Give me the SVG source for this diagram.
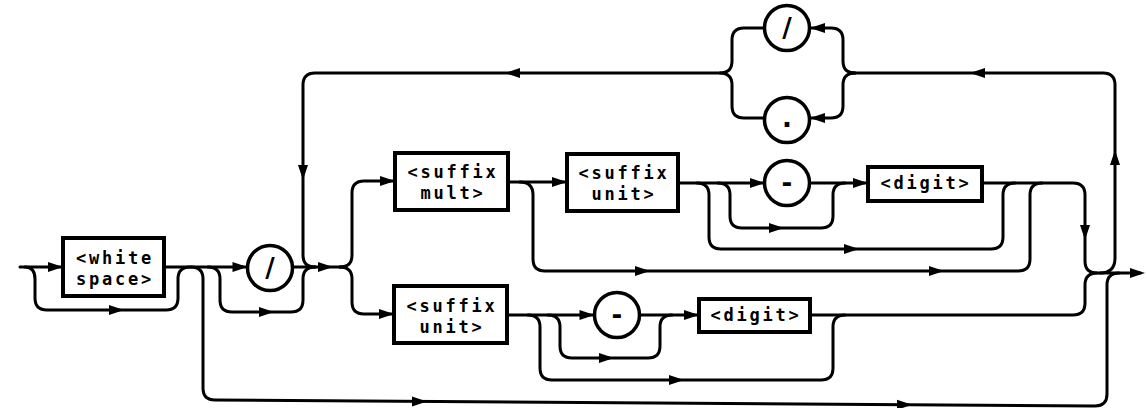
<svg xmlns="http://www.w3.org/2000/svg" xmlns:xlink="http://www.w3.org/1999/xlink" width="1147" height="408" viewBox="0 0 1147 408">
<style>
.ln{fill:none;stroke:#000;stroke-width:3;stroke-linecap:round;stroke-linejoin:round}
.bx{fill:#fff;stroke:#000;stroke-width:4}
.ci{fill:#fff;stroke:#000;stroke-width:3.5}
.t{font-family:"DejaVu Sans Mono","Liberation Mono",monospace;font-weight:bold;font-size:17px;letter-spacing:2.8px;text-anchor:middle;fill:#000}
.c{font-family:"DejaVu Sans","Liberation Sans",sans-serif;font-weight:bold;font-size:26px;text-anchor:middle;fill:#000}
.ah{fill:#000}
</style>
<defs>
<path id="ah" class="ah" d="M0,0 L-15,-5 L-15,5 Z"/>
</defs>
<rect width="1147" height="408" fill="#fff"/>
<g id="connectors">
<path class="ln" d="M20 267 L63 267"/>
<path class="ln" d="M164 267 L247.5 267"/>
<path class="ln" d="M25 267 Q35 267 35 279 L35 298 Q35 310 47 310 L166 310 Q178 310 178 298 L178 279 Q178 267 190 267"/>
<path class="ln" d="M191 267 Q203 267 203 279 L203 388 Q203 400 215 400 L1095 406 Q1107 406 1107 394 L1107 285 Q1107 273 1119 273"/>
<path class="ln" d="M208 267 Q220 267 220 279 L220 300 Q220 312 232 312 L291 312 Q303 312 303 300 L303 279 Q303 267 315 267"/>
<path class="ln" d="M292.5 267 L343 267"/>
<path class="ln" d="M340 267 Q352 267 352 255 L352 193 Q352 181 364 181 L395 181"/>
<path class="ln" d="M340 267 Q352 267 352 279 L352 302 Q352 314 364 314 L394 314"/>
<path class="ln" d="M1100 273 Q1115 273 1115 258 L1115 85 Q1115 73 1103 73 L853 73"/>
<path class="ln" d="M855 73 Q843 73 843 61 L843 40 Q843 28 831 28 L810 28"/>
<path class="ln" d="M855 73 Q843 73 843 85 L843 106 Q843 118 831 118 L810 118"/>
<path class="ln" d="M765 28 L744 28 Q732 28 732 40 L732 61 Q732 73 720 73 L315 73 Q303 73 303 85 L303 255 Q303 267 315 267"/>
<path class="ln" d="M765 118 L744 118 Q732 118 732 106 L732 85 Q732 73 720 73"/>
<path class="ln" d="M508 182 L567 182"/>
<path class="ln" d="M520 182 Q533 182 533 195 L533 259 Q533 271 545 271 L1018 271 Q1030 271 1030 259 L1030 195 Q1030 183 1042 183"/>
<path class="ln" d="M678 183 L765 183"/>
<path class="ln" d="M697 183 Q709 183 709 195 L709 237 Q709 249 721 249 L991 249 Q1003 249 1003 237 L1003 195 Q1003 183 1015 183"/>
<path class="ln" d="M718 183 Q730 183 730 195 L730 216 Q730 228 742 228 L821 228 Q833 228 833 216 L833 195 Q833 183 845 183"/>
<path class="ln" d="M810 183 L868 183"/>
<path class="ln" d="M982 183 L1073 183 Q1085 183 1085 195 L1085 261 Q1085 273 1097 273 L1140 273"/>
<path class="ln" d="M507 315 L594.5 315"/>
<path class="ln" d="M528 315 Q540 315 540 327 L540 368 Q540 380 552 380 L821 380 Q833 380 833 368 L833 327 Q833 315 845 315"/>
<path class="ln" d="M548 315 Q560 315 560 327 L560 346 Q560 358 572 358 L648 358 Q660 358 660 346 L660 327 Q660 315 672 315"/>
<path class="ln" d="M639.5 315 L699 315"/>
<path class="ln" d="M810 315 L1073 315 Q1085 315 1085 303 L1085 285 Q1085 273 1097 273"/>
<use xlink:href="#ah" transform="translate(63,267)"/>
<use xlink:href="#ah" transform="translate(124,310)"/>
<use xlink:href="#ah" transform="translate(247.5,267)"/>
<use xlink:href="#ah" transform="translate(274,312)"/>
<use xlink:href="#ah" transform="translate(333,267)"/>
<use xlink:href="#ah" transform="translate(395,181)"/>
<use xlink:href="#ah" transform="translate(394,314)"/>
<use xlink:href="#ah" transform="translate(567,182)"/>
<use xlink:href="#ah" transform="translate(765,183)"/>
<use xlink:href="#ah" transform="translate(868,183)"/>
<use xlink:href="#ah" transform="translate(784,228)"/>
<use xlink:href="#ah" transform="translate(859,249)"/>
<use xlink:href="#ah" transform="translate(650,271)"/>
<use xlink:href="#ah" transform="translate(944,271)"/>
<use xlink:href="#ah" transform="translate(594.5,315)"/>
<use xlink:href="#ah" transform="translate(699,315)"/>
<use xlink:href="#ah" transform="translate(614,358)"/>
<use xlink:href="#ah" transform="translate(684,380)"/>
<use xlink:href="#ah" transform="translate(427,401.4)"/>
<use xlink:href="#ah" transform="translate(912,404.8)"/>
<use xlink:href="#ah" transform="translate(1145,273)"/>
<use xlink:href="#ah" transform="translate(970,73) rotate(180)"/>
<use xlink:href="#ah" transform="translate(810,28) rotate(180)"/>
<use xlink:href="#ah" transform="translate(810,118) rotate(180)"/>
<use xlink:href="#ah" transform="translate(505,73) rotate(180)"/>
<use xlink:href="#ah" transform="translate(303,180) rotate(90)"/>
<use xlink:href="#ah" transform="translate(1085,240) rotate(90)"/>
<use xlink:href="#ah" transform="translate(1115,150) rotate(-90)"/>
</g>
<g id="white-space">
<rect class="bx" x="63" y="238" width="101" height="58"/>
<text class="t" x="115" y="264">&lt;white</text>
<text class="t" x="115" y="285">space&gt;</text>
</g>
<g id="slash-main">
<circle class="ci" cx="270" cy="268" r="22.5"/>
<text class="c" x="270" y="277">/</text>
</g>
<g id="slash-top">
<circle class="ci" cx="787" cy="28" r="22.5"/>
<text class="c" x="787" y="37">/</text>
</g>
<g id="dot-top">
<circle class="ci" cx="787" cy="120" r="22.5"/>
<text class="c" x="787" y="127">.</text>
</g>
<g id="suffix-mult">
<rect class="bx" x="395" y="153" width="113" height="57"/>
<text class="t" x="453" y="178">&lt;suffix</text>
<text class="t" x="453" y="199">mult&gt;</text>
</g>
<g id="suffix-unit-upper">
<rect class="bx" x="567" y="154" width="111" height="57"/>
<text class="t" x="624" y="179">&lt;suffix</text>
<text class="t" x="624" y="200">unit&gt;</text>
</g>
<g id="minus-upper">
<circle class="ci" cx="787" cy="183" r="22.5"/>
<text class="c" x="787" y="192">-</text>
</g>
<g id="digit-upper">
<rect class="bx" x="868" y="167" width="114" height="34"/>
<text class="t" x="926" y="189">&lt;digit&gt;</text>
</g>
<g id="suffix-unit-lower">
<rect class="bx" x="394" y="286" width="113" height="57"/>
<text class="t" x="452" y="312">&lt;suffix</text>
<text class="t" x="452" y="333">unit&gt;</text>
</g>
<g id="minus-lower">
<circle class="ci" cx="617" cy="315" r="22.5"/>
<text class="c" x="617" y="324">-</text>
</g>
<g id="digit-lower">
<rect class="bx" x="699" y="299" width="111" height="33"/>
<text class="t" x="756" y="321">&lt;digit&gt;</text>
</g>
</svg>
